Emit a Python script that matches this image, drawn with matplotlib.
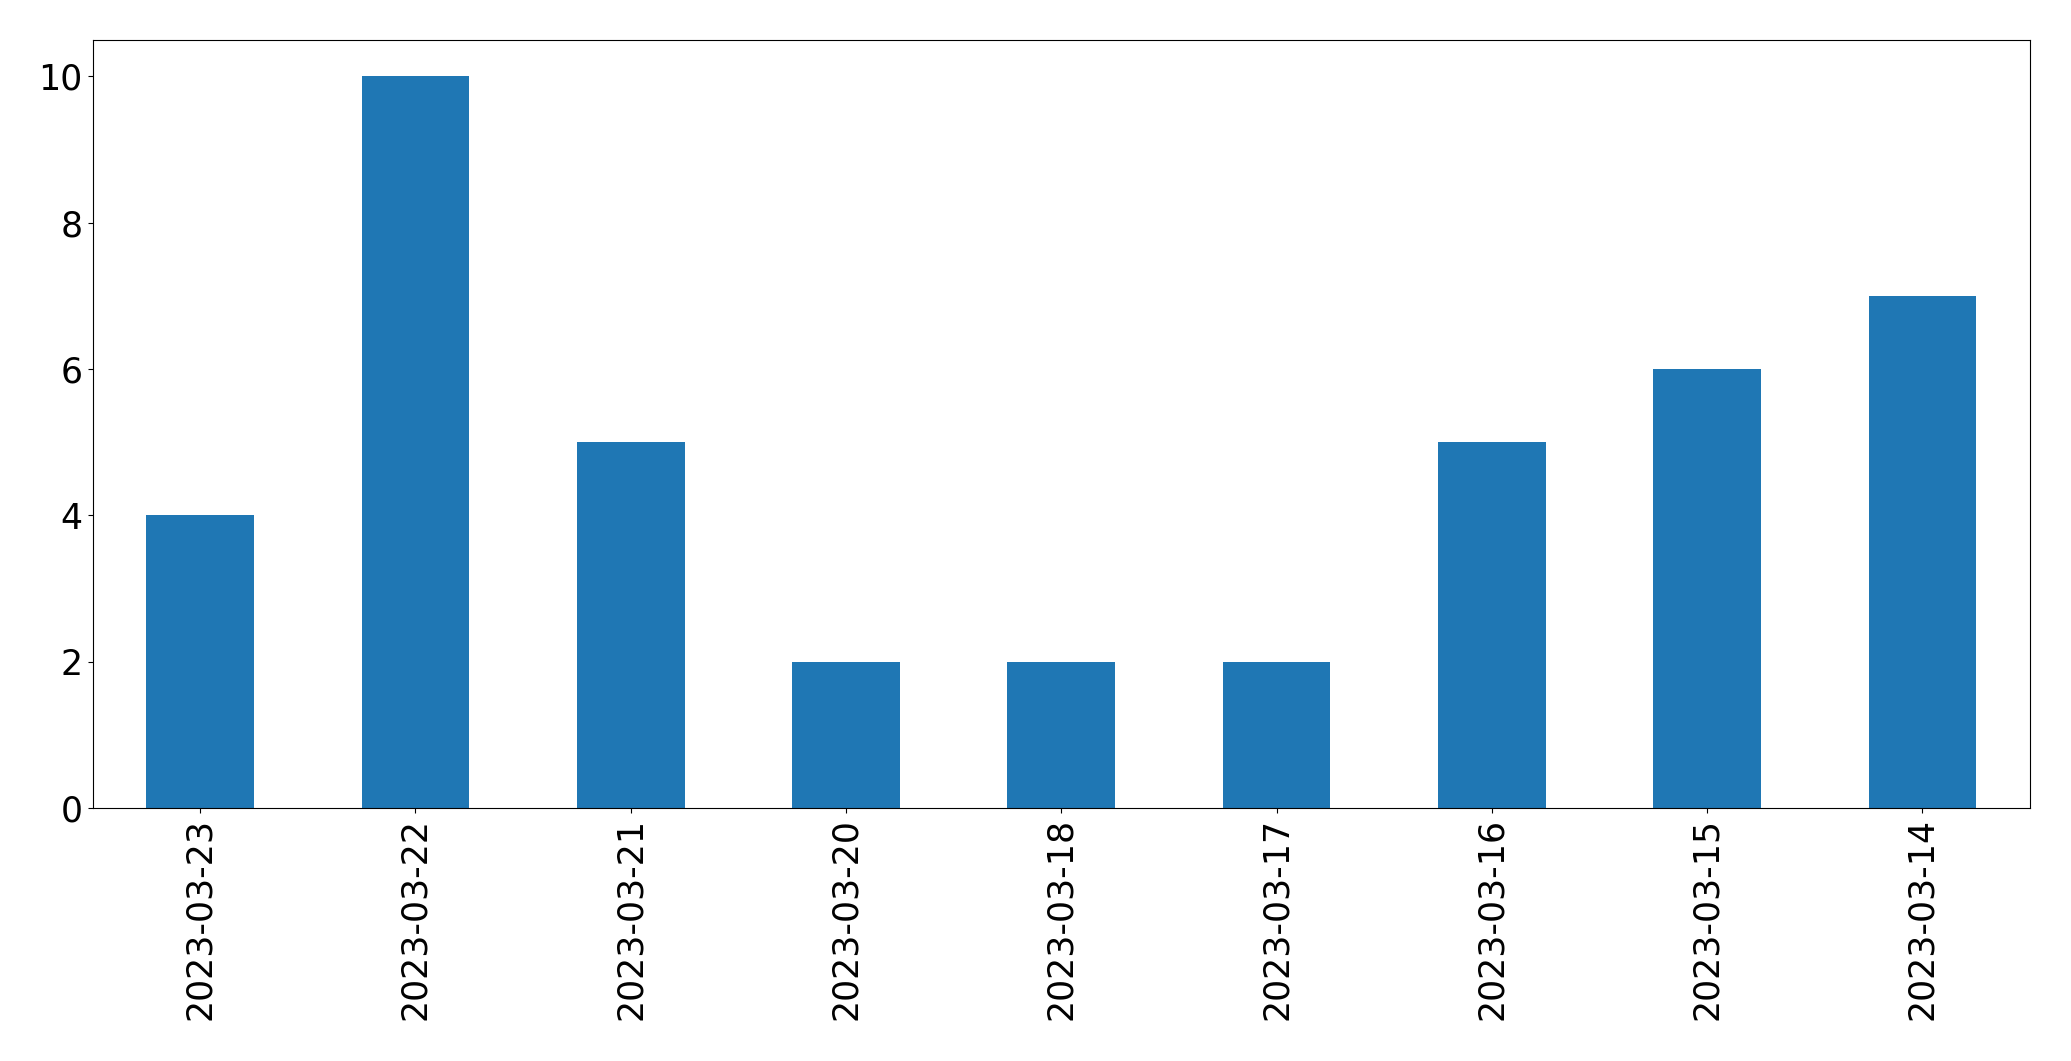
import matplotlib
matplotlib.use("Agg")
import matplotlib.pyplot as plt
import numpy as np

dates = ["2023-03-23", "2023-03-22", "2023-03-21", "2023-03-20", "2023-03-18",
         "2023-03-17", "2023-03-16", "2023-03-15", "2023-03-14"]
counts = [4, 10, 5, 2, 2, 2, 5, 6, 7]

fig = plt.figure(figsize=(20.71, 10.61), dpi=100)
ax = fig.add_axes([0.0447, 0.2385, 0.9355, 0.7242])
x = np.arange(len(dates))
ax.bar(x, counts, width=0.5, color="#1f77b4")
ax.set_xlim(-0.5, len(dates) - 0.5)
ax.set_ylim(0, 10.5)
ax.set_xticks(x)
ax.set_xticklabels(dates, rotation=90)
ax.tick_params(labelsize=25)
fig.savefig("out.png", dpi=100)
